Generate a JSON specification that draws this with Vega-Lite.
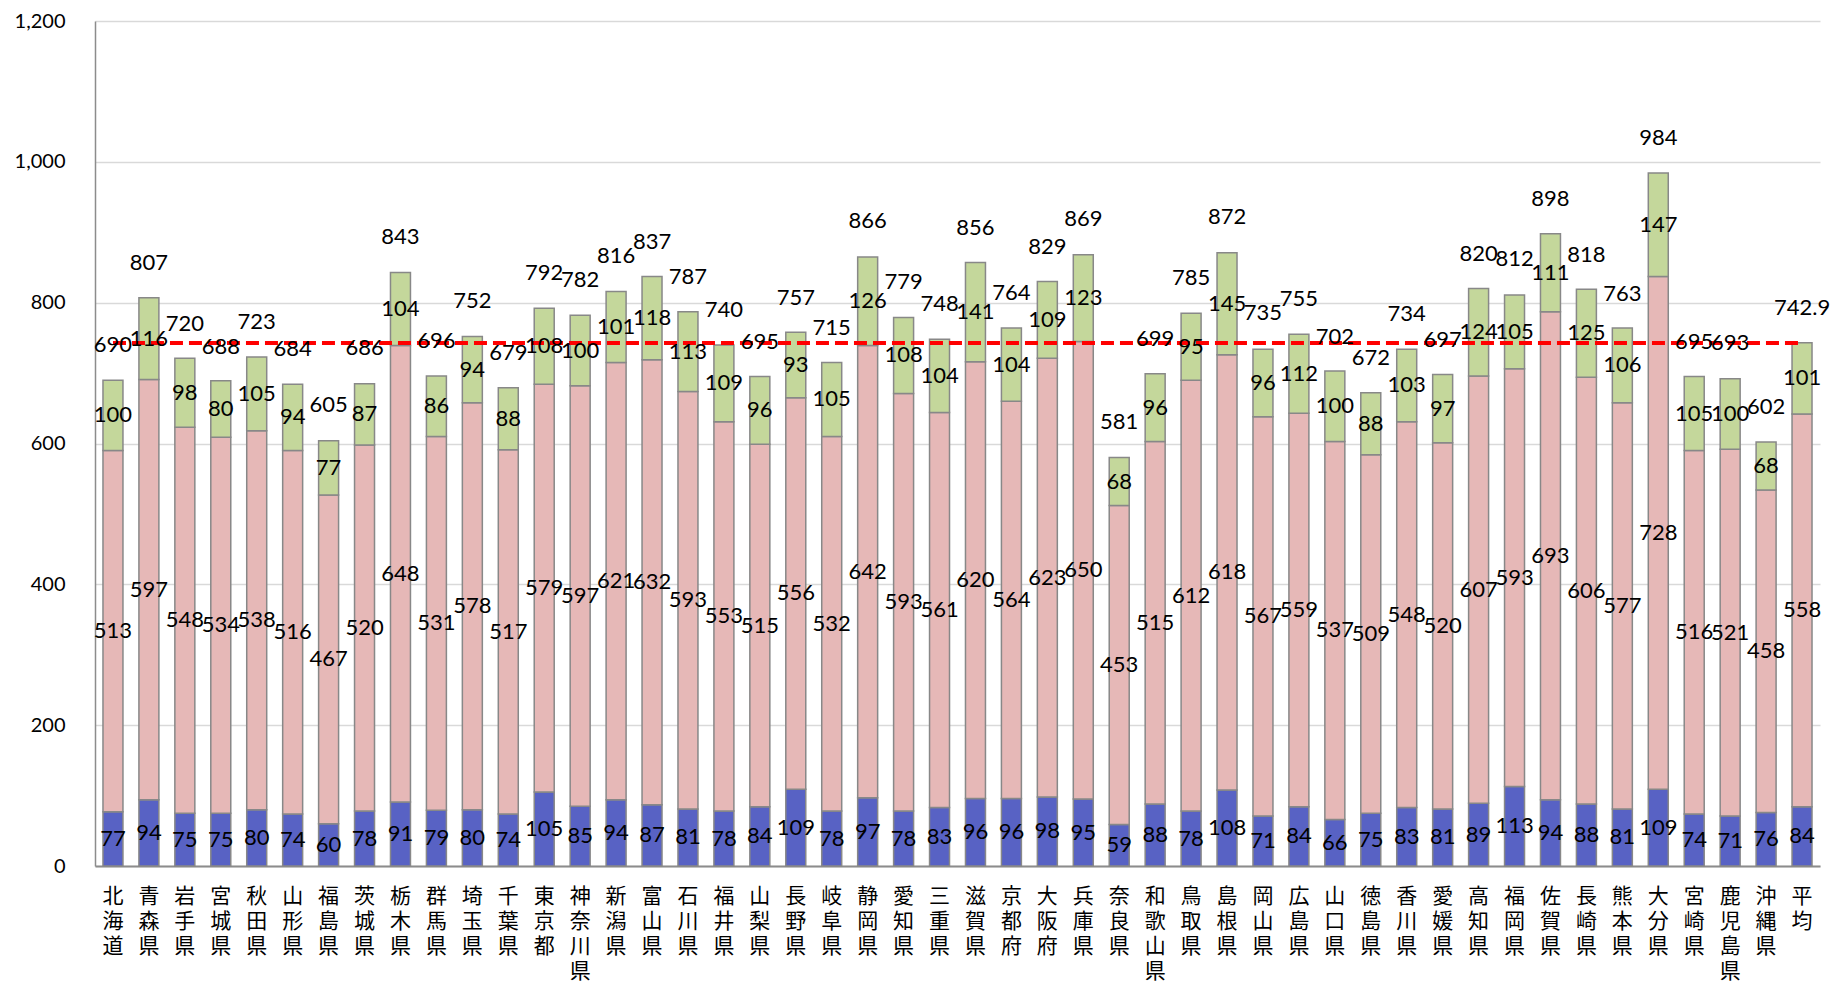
{
  "$schema": "https://vega.github.io/schema/vega-lite/v6.json",
  "width": 1725,
  "height": 845,
  "autosize": {"type": "none"},
  "padding": {"left": 95, "top": 21, "right": 15, "bottom": 119},
  "background": "white",
  "config": {"view": {"stroke": null}, "font": "Lato"},
  "data": {
    "values": [
      {"pref": "北海道", "a": 77, "b": 513, "c": 100, "total": 690},
      {"pref": "青森県", "a": 94, "b": 597, "c": 116, "total": 807},
      {"pref": "岩手県", "a": 75, "b": 548, "c": 98, "total": 720},
      {"pref": "宮城県", "a": 75, "b": 534, "c": 80, "total": 688},
      {"pref": "秋田県", "a": 80, "b": 538, "c": 105, "total": 723},
      {"pref": "山形県", "a": 74, "b": 516, "c": 94, "total": 684},
      {"pref": "福島県", "a": 60, "b": 467, "c": 77, "total": 605},
      {"pref": "茨城県", "a": 78, "b": 520, "c": 87, "total": 686},
      {"pref": "栃木県", "a": 91, "b": 648, "c": 104, "total": 843},
      {"pref": "群馬県", "a": 79, "b": 531, "c": 86, "total": 696},
      {"pref": "埼玉県", "a": 80, "b": 578, "c": 94, "total": 752},
      {"pref": "千葉県", "a": 74, "b": 517, "c": 88, "total": 679},
      {"pref": "東京都", "a": 105, "b": 579, "c": 108, "total": 792},
      {"pref": "神奈川県", "a": 85, "b": 597, "c": 100, "total": 782},
      {"pref": "新潟県", "a": 94, "b": 621, "c": 101, "total": 816},
      {"pref": "富山県", "a": 87, "b": 632, "c": 118, "total": 837},
      {"pref": "石川県", "a": 81, "b": 593, "c": 113, "total": 787},
      {"pref": "福井県", "a": 78, "b": 553, "c": 109, "total": 740},
      {"pref": "山梨県", "a": 84, "b": 515, "c": 96, "total": 695},
      {"pref": "長野県", "a": 109, "b": 556, "c": 93, "total": 757},
      {"pref": "岐阜県", "a": 78, "b": 532, "c": 105, "total": 715},
      {"pref": "静岡県", "a": 97, "b": 642, "c": 126, "total": 866},
      {"pref": "愛知県", "a": 78, "b": 593, "c": 108, "total": 779},
      {"pref": "三重県", "a": 83, "b": 561, "c": 104, "total": 748},
      {"pref": "滋賀県", "a": 96, "b": 620, "c": 141, "total": 856},
      {"pref": "京都府", "a": 96, "b": 564, "c": 104, "total": 764},
      {"pref": "大阪府", "a": 98, "b": 623, "c": 109, "total": 829},
      {"pref": "兵庫県", "a": 95, "b": 650, "c": 123, "total": 869},
      {"pref": "奈良県", "a": 59, "b": 453, "c": 68, "total": 581},
      {"pref": "和歌山県", "a": 88, "b": 515, "c": 96, "total": 699},
      {"pref": "鳥取県", "a": 78, "b": 612, "c": 95, "total": 785},
      {"pref": "島根県", "a": 108, "b": 618, "c": 145, "total": 872},
      {"pref": "岡山県", "a": 71, "b": 567, "c": 96, "total": 735},
      {"pref": "広島県", "a": 84, "b": 559, "c": 112, "total": 755},
      {"pref": "山口県", "a": 66, "b": 537, "c": 100, "total": 702},
      {"pref": "徳島県", "a": 75, "b": 509, "c": 88, "total": 672},
      {"pref": "香川県", "a": 83, "b": 548, "c": 103, "total": 734},
      {"pref": "愛媛県", "a": 81, "b": 520, "c": 97, "total": 697},
      {"pref": "高知県", "a": 89, "b": 607, "c": 124, "total": 820},
      {"pref": "福岡県", "a": 113, "b": 593, "c": 105, "total": 812},
      {"pref": "佐賀県", "a": 94, "b": 693, "c": 111, "total": 898},
      {"pref": "長崎県", "a": 88, "b": 606, "c": 125, "total": 818},
      {"pref": "熊本県", "a": 81, "b": 577, "c": 106, "total": 763},
      {"pref": "大分県", "a": 109, "b": 728, "c": 147, "total": 984},
      {"pref": "宮崎県", "a": 74, "b": 516, "c": 105, "total": 695},
      {"pref": "鹿児島県", "a": 71, "b": 521, "c": 100, "total": 693},
      {"pref": "沖縄県", "a": 76, "b": 458, "c": 68, "total": 602},
      {"pref": "平均", "a": 84, "b": 558, "c": 101, "total": 742.9}
    ]
  },
  "encoding": {
    "x": {
      "field": "pref",
      "type": "nominal",
      "sort": null,
      "scale": {"paddingInner": 0.444, "paddingOuter": 0.222},
      "axis": {
        "title": null,
        "labelAngle": 0,
        "labelExpr": "split(datum.label, '')",
        "labelFont": "Noto Sans CJK JP",
        "labelFontSize": 21,
        "labelLineHeight": 25,
        "labelBaseline": "top",
        "labelAlign": "center",
        "labelPadding": 19,
        "labelColor": "#000000",
        "labelOverlap": false,
        "labelBound": false,
        "labelLimit": 0,
        "ticks": false,
        "domainColor": "#8c8c8c",
        "domainWidth": 2
      }
    }
  },
  "layer": [
    {
      "transform": [{"fold": ["a", "b", "c"], "as": ["seg", "value"]}],
      "mark": {"type": "bar", "stroke": "#888888", "strokeWidth": 1.5},
      "encoding": {
        "y": {
          "field": "value",
          "type": "quantitative",
          "stack": "zero",
          "title": null,
          "scale": {"domain": [0, 1200], "nice": false},
          "axis": {
            "title": null,
            "values": [0, 200, 400, 600, 800, 1000, 1200],
            "format": ",.0f",
            "grid": true,
            "gridColor": "#d9d9d9",
            "gridWidth": 1.5,
            "ticks": false,
            "domain": true,
            "domainColor": "#8c8c8c",
            "domainWidth": 1.5,
            "labelFont": "Lato",
            "labelFontSize": 20,
            "labelColor": "#000000",
            "labelPadding": 30
          }
        },
        "color": {
          "field": "seg",
          "type": "nominal",
          "scale": {"domain": ["a", "b", "c"], "range": ["#5862C4", "#E6B8B7", "#C4D79B"]},
          "legend": null
        },
        "order": {"field": "seg", "sort": "ascending"}
      }
    },
    {
      "mark": {"type": "line", "color": "#FF0000", "strokeWidth": 4, "strokeDash": [13, 6]},
      "encoding": {
        "y": {"datum": 742.9, "type": "quantitative", "title": null}
      }
    },
    {
      "transform": [
        {"fold": ["a", "b", "c"], "as": ["seg", "value"]},
        {"stack": "value", "groupby": ["pref"], "sort": [{"field": "seg", "order": "ascending"}], "as": ["v0", "v1"]},
        {"fold": ["v0", "v1"], "as": ["edge", "pos"]},
        {"aggregate": [{"op": "mean", "field": "pos", "as": "mid"}], "groupby": ["pref", "seg", "value"]}
      ],
      "mark": {"type": "text", "font": "Lato", "fontSize": 22, "color": "#000000", "baseline": "middle", "align": "center"},
      "encoding": {
        "y": {"field": "mid", "type": "quantitative", "title": null},
        "text": {"field": "value", "type": "quantitative"}
      }
    },
    {
      "mark": {"type": "text", "font": "Lato", "fontSize": 22, "color": "#000000", "baseline": "middle", "align": "center", "dy": -35},
      "encoding": {
        "y": {"field": "total", "type": "quantitative", "title": null},
        "text": {"field": "total", "type": "quantitative"}
      }
    }
  ]
}
